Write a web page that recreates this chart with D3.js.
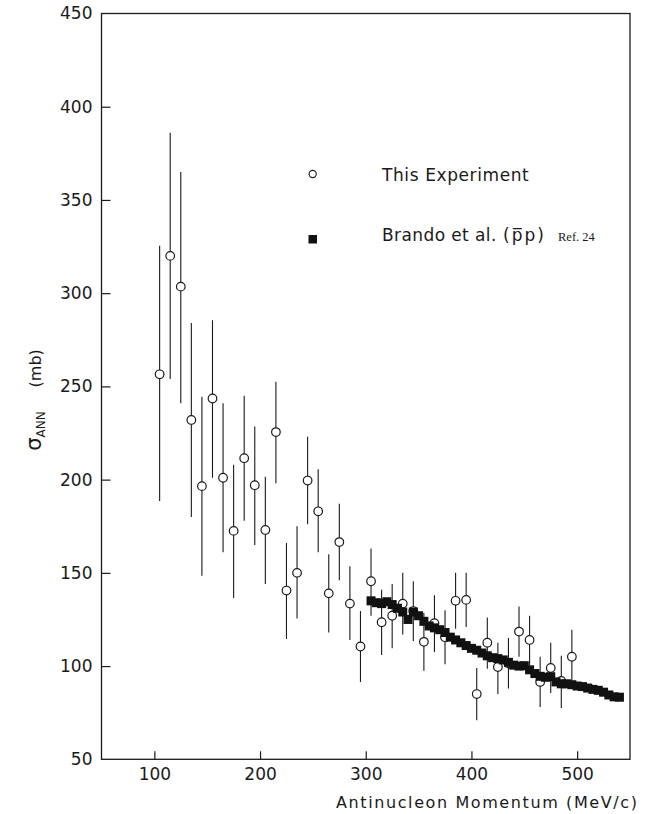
<!DOCTYPE html>
<html><head><meta charset="utf-8">
<script src="https://cdn.jsdelivr.net/npm/d3@7"></script>
<style>
body{margin:0;background:#fff;}
text{font-family:"DejaVu Sans",sans-serif;fill:#1a1a1a;}
</style></head>
<body>
<svg id="chart" width="649" height="814"></svg>
<script>
// "This Experiment" (open circles with error bars)
const expMomentum = [105,115,125,135,145,155,165,175,185,195,205,215,225,235,245,255,265,275,285,295,305,315,325,335,345,355,365,375,385,395,405,415,425,435,445,455,465,475,485,495];
const expSigma    = [256.5,320,303.5,232,196.5,243.5,201,172.5,211.5,197,173,225.5,140.5,150,199.5,183,139,166.5,133.5,110.5,145.5,123.5,127,133.5,129.5,113,123,115.5,135,135.5,85,112.5,99.5,101.5,118.5,114,91.5,99,92,105];
const expLow      = [188.5,254,241,180,148.5,201,161,136.5,178,165,144,198,114.5,125.5,176,161,118,146,114,91.5,127,106,109.5,117,113.5,97.5,107.5,101,120,121,71,98.5,85,88,105,100.5,78,85.5,77.5,91];
const expHigh     = [325.5,386,365,284,244.5,285.5,241,208,245,228.5,201.5,252.5,166,175,223,205.5,160,187,153.5,129.5,163,141,144,150,145.5,128.5,138,130,150,150,99,126,112.5,115,132,127,105,112.5,105.5,119.5];

// Brando et al. (p̄p) Ref. 24 (filled squares)
const refMomentum = [305,310,315,320,325,330,335,340,345,350,355,360,365,370,375,380,385,390,395,400,405,410,415,420,425,430,435,440,445,450,455,460,465,470,475,480,485,490,495,500,505,510,515,520,525,530,535,540];
const refSigma    = [135,134,133.5,134.5,133,131,129,125,129,127,124,121.5,120.5,119.5,118,115.5,114,112.5,111,109.5,108.5,107,105.5,104.5,104,103.3,102,100.5,100,100.2,98,96,94.5,94,94.3,91.5,90.5,90.5,90,89.3,89,88.2,87.5,87,86,84.5,83.5,83.3];

const xTicks = [100,200,300,400,500];
const yTicks = [50,100,150,200,250,300,350,400,450];

const svg = d3.select("#chart");
const L = 101.5, R = 630, T = 13.5, B = 759.3;
const x = d3.scaleLinear().domain([50,550]).range([L,R]);
const y = d3.scaleLinear().domain([50,450]).range([B,T]);
const ink = "#1a1a1a";

// frame
svg.append("rect").attr("x",L).attr("y",T).attr("width",R-L).attr("height",B-T)
  .attr("fill","none").attr("stroke",ink).attr("stroke-width",1.3);

// x axis (ticks inward)
const xAxis = d3.axisBottom(x).tickValues(xTicks).tickSize(-8).tickPadding(9).tickFormat(d3.format("d"));
const gx = svg.append("g").attr("transform",`translate(0,${B})`).call(xAxis);
gx.select(".domain").remove();
gx.selectAll("line").attr("stroke",ink).attr("stroke-width",1.2);
gx.selectAll("text").attr("font-size",17).attr("fill",ink).style("font-family","'DejaVu Sans',sans-serif");

// y axis (ticks inward)
const yAxis = d3.axisLeft(y).tickValues(yTicks).tickSize(-9).tickPadding(9).tickFormat(d3.format("d"));
const gy = svg.append("g").attr("transform",`translate(${L},0)`).call(yAxis);
gy.select(".domain").remove();
gy.selectAll("line").attr("stroke",ink).attr("stroke-width",1.2);
gy.selectAll(".tick").filter(d=>d===50||d===450).select("line").remove();
gy.selectAll("text").attr("font-size",17).attr("fill",ink).style("font-family","'DejaVu Sans',sans-serif");

// x title
svg.append("text").attr("x",336).attr("y",808).attr("text-anchor","start")
  .attr("font-size",16).attr("letter-spacing",1.6).text("Antinucleon Momentum (MeV/c)");

// y title
const yt = svg.append("text").attr("transform","translate(41,400) rotate(-90)").attr("text-anchor","middle");
yt.append("tspan").attr("font-size",21).text("σ");
yt.append("tspan").attr("font-size",12).attr("dy",4).text("ANN");
yt.append("tspan").attr("font-size",16).attr("dy",-4).attr("dx",24).text("(mb)");

// error bars
const exp = expMomentum.map((m,i)=>({m, s:expSigma[i], lo:expLow[i], hi:expHigh[i]}));
svg.append("g").selectAll("line").data(exp).join("line")
  .attr("x1",d=>x(d.m)).attr("x2",d=>x(d.m))
  .attr("y1",d=>y(d.lo)).attr("y2",d=>y(d.hi))
  .attr("stroke",ink).attr("stroke-width",1.1);
svg.append("g").selectAll("circle").data(exp).join("circle")
  .attr("cx",d=>x(d.m)).attr("cy",d=>y(d.s)).attr("r",4.3)
  .attr("fill","#fff").attr("stroke",ink).attr("stroke-width",1.2);

// squares
const ref = refMomentum.map((m,i)=>({m, s:refSigma[i]}));
const sq = 9;
svg.append("g").selectAll("rect").data(ref).join("rect")
  .attr("x",d=>x(d.m)-sq/2).attr("y",d=>y(d.s)-sq/2)
  .attr("width",sq).attr("height",sq).attr("fill","#111");

// legend
svg.append("circle").attr("cx",312.7).attr("cy",174).attr("r",3.6)
  .attr("fill","#fff").attr("stroke",ink).attr("stroke-width",1.1);
svg.append("text").attr("x",382).attr("y",181).attr("font-size",17).attr("letter-spacing",0.6).text("This  Experiment");
svg.append("rect").attr("x",308.5).attr("y",235).attr("width",8.5).attr("height",8.5).attr("fill","#111");
const lt = svg.append("text").attr("x",382).attr("y",241).attr("font-size",17);
lt.append("tspan").attr("letter-spacing",0.4).text("Brando et al.");
lt.append("tspan").attr("x",503).attr("letter-spacing",2).text("(p\u0305p)");
lt.append("tspan").attr("x",558).attr("font-size",12.5).style("font-family","'Liberation Serif',serif").text("Ref. 24");
</script>
</body></html>
